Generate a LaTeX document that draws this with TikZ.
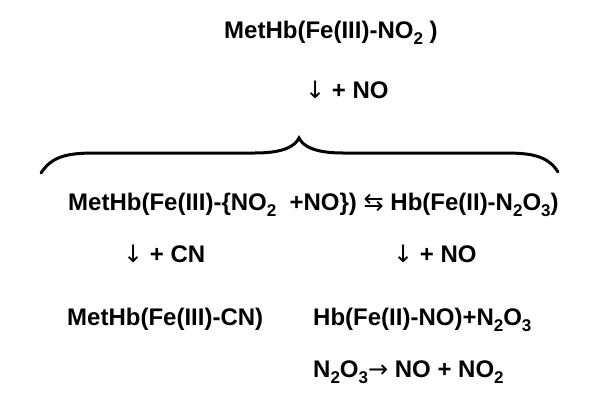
\documentclass[tikz,border=0pt]{standalone}
\usepackage{fontspec}
\setmainfont{Liberation Sans}
\newfontfamily\arrfont{DejaVu Sans}
\newcommand{\lowsub}[1]{\raisebox{-0.25em}{\fontsize{17}{19}\selectfont #1}}
\begin{document}
\begin{tikzpicture}[x=1pt,y=-1pt,
  lbl/.style={anchor=base west,inner sep=0pt,font=\fontsize{24}{28}\selectfont\bfseries},
  brace/.style={line width=3pt,line cap=round}]
\useasboundingbox (0,0) rectangle (600,402);
\node[lbl] (top) at (224,38) {MetHb(Fe(III)-NO\lowsub{2} )};
\node[lbl] (addno) at (305,98) {{\arrfont\mdseries ↓} + NO};
\draw[brace] (41,173) .. controls (52,156) and (68,153) .. (95,153) -- (255,153)
  .. controls (284,153) and (295,146) .. (299,138)
  .. controls (303,146) and (314,153) .. (343,153) -- (505,153)
  .. controls (532,153) and (548,156) .. (558,172);
\node[lbl] (mid) at (68,210) {MetHb(Fe(III)-\{NO\lowsub{2}\ \ +NO\}) {\arrfont\mdseries ⇆} Hb(Fe(II)-N\lowsub{2}O\lowsub{3})};
\node[lbl] (addcn) at (123,262) {{\arrfont\mdseries ↓} + CN};
\node[lbl] (addno2) at (393,262) {{\arrfont\mdseries ↓} + NO};
\node[lbl] (cn) at (67,325) {MetHb(Fe(III)-CN)};
\node[lbl] (hbno) at (313,325) {Hb(Fe(II)-NO)+N\lowsub{2}O\lowsub{3}};
\node[lbl] (decomp) at (313,377) {N\lowsub{2}O\lowsub{3}{\arrfont\mdseries →} NO + NO\lowsub{2}};
\end{tikzpicture}
\end{document}
